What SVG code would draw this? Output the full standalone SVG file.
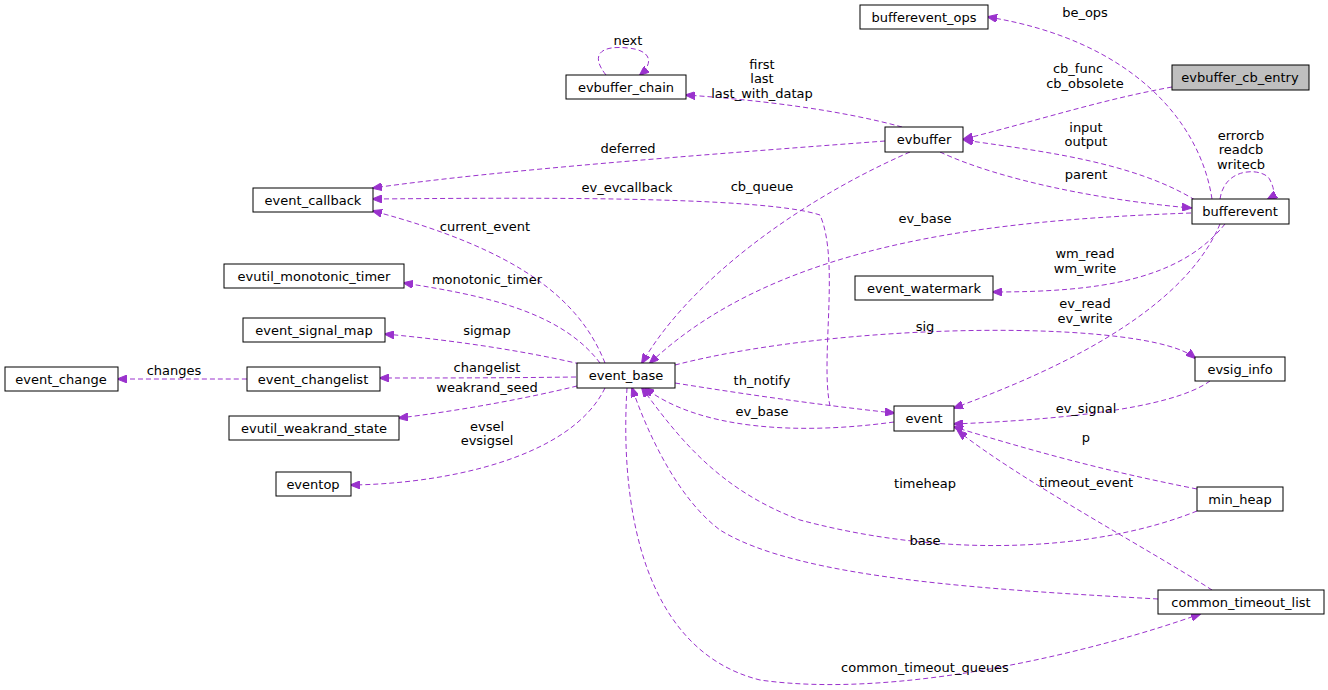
<svg xmlns="http://www.w3.org/2000/svg" width="1328" height="690" viewBox="0 0 1328 690">
<style>
.n rect{fill:#fff;stroke:#000;stroke-width:1}
text{font-family:"DejaVu Sans",sans-serif;font-size:13px;fill:#000;text-anchor:middle}
.e path{fill:none;stroke:#9a32cd;stroke-dasharray:5,3;stroke-width:1}
</style>
<defs><marker id="a" markerWidth="10" markerHeight="8" refX="9" refY="4" orient="auto" markerUnits="userSpaceOnUse"><path d="M0,0L10,4L0,8z" fill="#9a32cd" stroke="#9a32cd"/></marker></defs>
<rect width="1328" height="690" fill="#fff"/>
<g class="e" marker-end="url(#a)">
<path d="M1212,199C1200,120 1130,40 988,17" marker-end="url(#a)"/>
<path d="M1172,87C1100,100 1040,120 964,139" marker-end="url(#a)"/>
<path d="M902,127C840,110 760,100 686,95" marker-end="url(#a)"/>
<path d="M606,75C590,55 600,45 628,48C650,50 655,62 640,75" marker-end="url(#a)"/>
<path d="M885,141C700,155 500,170 373,188" marker-end="url(#a)"/>
<path d="M1195,200C1130,160 1030,150 964,140" marker-end="url(#a)"/>
<path d="M940,152C1000,180 1100,200 1191,208" marker-end="url(#a)"/>
<path d="M910,152C800,200 690,280 642,363" marker-end="url(#a)"/>
<path d="M830,406C820,360 840,260 820,215C760,195 500,198 373,199" marker-end="url(#a)"/>
<path d="M605,363C580,300 520,250 373,211" marker-end="url(#a)"/>
<path d="M1191,213C1000,220 780,240 650,363" marker-end="url(#a)"/>
<path d="M1220,199C1225,165 1265,168 1270,180C1275,190 1275,195 1268,199" marker-end="url(#a)"/>
<path d="M1225,224C1180,280 1100,292 993,292" marker-end="url(#a)"/>
<path d="M1220,224C1180,320 1030,380 954,408" marker-end="url(#a)"/>
<path d="M600,363C560,310 480,295 404,283" marker-end="url(#a)"/>
<path d="M580,364C520,350 450,340 385,334" marker-end="url(#a)"/>
<path d="M576,377C500,378 440,378 380,378" marker-end="url(#a)"/>
<path d="M247,379C200,379 160,379 118,379" marker-end="url(#a)"/>
<path d="M577,386C520,400 450,412 399,418" marker-end="url(#a)"/>
<path d="M605,388C570,460 440,484 351,485" marker-end="url(#a)"/>
<path d="M675,365C850,320 1150,320 1195,358" marker-end="url(#a)"/>
<path d="M675,383C750,395 820,405 894,413" marker-end="url(#a)"/>
<path d="M894,422C800,435 700,430 645,388" marker-end="url(#a)"/>
<path d="M1210,381C1170,410 1050,420 954,424" marker-end="url(#a)"/>
<path d="M1197,489C1100,470 1030,450 954,427" marker-end="url(#a)"/>
<path d="M1212,590C1150,550 1020,480 958,431" marker-end="url(#a)"/>
<path d="M1197,511C1100,550 950,560 800,520C720,490 680,440 642,388" marker-end="url(#a)"/>
<path d="M1158,599C1000,590 800,580 720,530C680,500 650,440 632,388" marker-end="url(#a)"/>
<path d="M627,388C620,500 640,650 760,680C900,700 1100,650 1200,614" marker-end="url(#a)"/>
</g>
<g id="bufferevent_ops" class="n"><rect x="860" y="5" width="128" height="24"/><text x="924" y="22">bufferevent_ops</text></g>
<g id="evbuffer_cb_entry" class="n"><rect x="1172" y="65" width="137" height="25" style="fill:#bfbfbf"/><text x="1240" y="82">evbuffer_cb_entry</text></g>
<g id="evbuffer_chain" class="n"><rect x="566" y="75" width="120" height="24"/><text x="626" y="92">evbuffer_chain</text></g>
<g id="evbuffer" class="n"><rect x="885" y="127" width="78" height="25"/><text x="924" y="144">evbuffer</text></g>
<g id="event_callback" class="n"><rect x="253" y="188" width="120" height="24"/><text x="313" y="205">event_callback</text></g>
<g id="bufferevent" class="n"><rect x="1192" y="199" width="97" height="25"/><text x="1240" y="216">bufferevent</text></g>
<g id="evutil_monotonic_timer" class="n"><rect x="224" y="264" width="180" height="24"/><text x="314" y="281">evutil_monotonic_timer</text></g>
<g id="event_watermark" class="n"><rect x="855" y="276" width="138" height="24"/><text x="924" y="293">event_watermark</text></g>
<g id="event_signal_map" class="n"><rect x="243" y="318" width="142" height="24"/><text x="314" y="335">event_signal_map</text></g>
<g id="event_change" class="n"><rect x="5" y="367" width="113" height="24"/><text x="61" y="384">event_change</text></g>
<g id="event_changelist" class="n"><rect x="247" y="367" width="133" height="24"/><text x="313" y="384">event_changelist</text></g>
<g id="event_base" class="n"><rect x="577" y="363" width="98" height="25"/><text x="626" y="380">event_base</text></g>
<g id="evsig_info" class="n"><rect x="1195" y="357" width="90" height="24"/><text x="1240" y="374">evsig_info</text></g>
<g id="evutil_weakrand_state" class="n"><rect x="229" y="416" width="170" height="24"/><text x="314" y="433">evutil_weakrand_state</text></g>
<g id="event" class="n"><rect x="894" y="406" width="60" height="25"/><text x="924" y="423">event</text></g>
<g id="eventop" class="n"><rect x="276" y="472" width="75" height="24"/><text x="313" y="489">eventop</text></g>
<g id="min_heap" class="n"><rect x="1197" y="487" width="86" height="24"/><text x="1240" y="504">min_heap</text></g>
<g id="common_timeout_list" class="n"><rect x="1158" y="590" width="166" height="24"/><text x="1241" y="607">common_timeout_list</text></g>
<g id="labels">
<text x="1085" y="17">be_ops</text>
<text x="1078" y="73">cb_func</text><text x="1085" y="88">cb_obsolete</text>
<text x="762" y="69">first</text><text x="762" y="83">last</text><text x="762" y="98">last_with_datap</text>
<text x="628" y="45">next</text>
<text x="628" y="153">deferred</text>
<text x="1086" y="132">input</text><text x="1086" y="146">output</text>
<text x="1086" y="179">parent</text>
<text x="762" y="191">cb_queue</text>
<text x="627" y="192">ev_evcallback</text>
<text x="485" y="231">current_event</text>
<text x="925" y="223">ev_base</text>
<text x="1241" y="140">errorcb</text><text x="1241" y="154">readcb</text><text x="1241" y="169">writecb</text>
<text x="1085" y="258">wm_read</text><text x="1085" y="273">wm_write</text>
<text x="1085" y="308">ev_read</text><text x="1085" y="323">ev_write</text>
<text x="487" y="284">monotonic_timer</text>
<text x="487" y="335">sigmap</text>
<text x="487" y="372">changelist</text>
<text x="174" y="375">changes</text>
<text x="487" y="392">weakrand_seed</text>
<text x="487" y="431">evsel</text><text x="487" y="445">evsigsel</text>
<text x="925" y="331">sig</text>
<text x="762" y="385">th_notify</text>
<text x="762" y="416">ev_base</text>
<text x="1086" y="413">ev_signal</text>
<text x="1086" y="442">p</text>
<text x="1086" y="487">timeout_event</text>
<text x="925" y="488">timeheap</text>
<text x="925" y="545">base</text>
<text x="925" y="672">common_timeout_queues</text>
</g>
</svg>
